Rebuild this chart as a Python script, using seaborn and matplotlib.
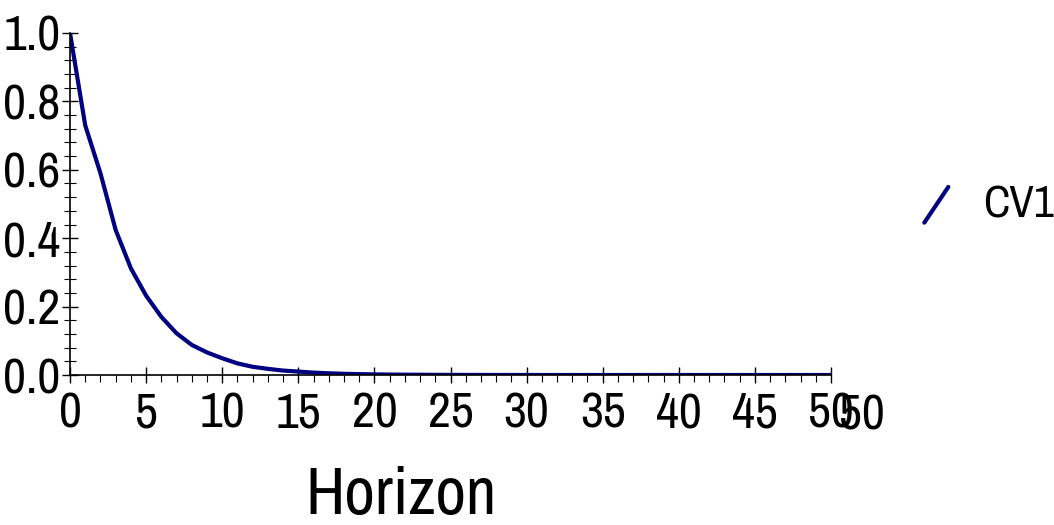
import numpy as np
import pandas as pd
import seaborn as sns
import matplotlib
matplotlib.use("Agg")
import matplotlib.pyplot as plt
from matplotlib import font_manager
from matplotlib.lines import Line2D
from matplotlib.legend_handler import HandlerLine2D
from matplotlib.ticker import MultipleLocator, FormatStrFormatter

# Impulse response of CV1 over the forecast horizon
horizon = list(range(0, 51))
cv1 = [1.000, 0.730, 0.590, 0.424, 0.312, 0.232, 0.170, 0.122, 0.088, 0.066,
       0.049, 0.034, 0.024, 0.018, 0.013, 0.010, 0.007, 0.005, 0.0035, 0.0025,
       0.0018, 0.0013, 0.0009, 0.0007, 0.0005, 0.0003, 0.0002, 0.0002, 0.0001, 0.0001,
       0.0001, 0.0, 0.0, 0.0, 0.0, 0.0, 0.0, 0.0, 0.0, 0.0,
       0.0, 0.0, 0.0, 0.0, 0.0, 0.0, 0.0, 0.0, 0.0, 0.0, 0.0]
series_name = "CV1"
x_label = "Horizon"

df = pd.DataFrame({"Horizon": horizon, "value": cv1, "series": series_name})

sns.set_style("white")
installed = {f.name for f in font_manager.fontManager.ttflist}
narrow = [f for f in ("Liberation Sans Narrow", "Archivo Narrow", "Roboto Condensed")
          if f in installed]
plt.rcParams["font.family"] = narrow + ["DejaVu Sans"]
plt.rcParams["text.color"] = "black"
plt.rcParams["axes.labelcolor"] = "black"
plt.rcParams["xtick.color"] = "black"
plt.rcParams["ytick.color"] = "black"

fig = plt.figure(figsize=(10.54, 5.25), dpi=100)
ax = fig.add_axes([70 / 1054, 150 / 525, 761 / 1054, 342 / 525])

sns.lineplot(data=df, x="Horizon", y="value", color="#000080", linewidth=3.0,
             ax=ax, legend=False)

ax.set_xlim(0, 50)
ax.set_ylim(0, 1.0)
ax.set_ylabel("")
ax.set_xlabel(x_label, fontsize=48, color="black")
ax.xaxis.label.set_va("baseline")
ax.xaxis.set_label_coords((401 - 70) / 761, (375 - 514) / 342)

for side in ("top", "right"):
    ax.spines[side].set_visible(False)
for side in ("left", "bottom"):
    ax.spines[side].set_color("black")
    ax.spines[side].set_linewidth(1.2)

ax.xaxis.set_major_locator(MultipleLocator(5))
ax.xaxis.set_minor_locator(MultipleLocator(1))
ax.yaxis.set_major_locator(MultipleLocator(0.2))
ax.yaxis.set_minor_locator(MultipleLocator(0.04))
ax.yaxis.set_major_formatter(FormatStrFormatter("%.1f"))

ax.tick_params(which="both", bottom=True, left=True, top=False, right=False)
ax.tick_params(axis="both", which="major", direction="inout", length=12,
               width=1.0, labelsize=36, labelcolor="black")
ax.tick_params(axis="x", which="major", pad=6)
ax.tick_params(axis="y", which="major", pad=1)
ax.tick_params(axis="x", which="minor", direction="out", length=5, width=0.8)
ax.tick_params(axis="y", which="minor", direction="inout", length=8, width=0.8)

# repeated end label on the horizon axis
ax.text(52, -0.055, "50", fontsize=36, ha="center", va="top",
        transform=ax.transData, clip_on=False)


class DiagonalHandler(HandlerLine2D):
    def create_artists(self, legend, orig_handle, xdescent, ydescent,
                       width, height, fontsize, trans):
        line = Line2D([-xdescent + width * 0.05, -xdescent + width * 0.95],
                      [-ydescent - height * 0.15, -ydescent + height * 1.0])
        self.update_prop(line, orig_handle, legend)
        line.set_transform(trans)
        return [line]


handle = Line2D([], [], color="#000080", linewidth=3.0)
fig.legend([handle], [series_name], handler_map={Line2D: DiagonalHandler()},
           loc="center left", bbox_to_anchor=(923 / 1054, 1 - 206 / 525),
           frameon=False, fontsize=32, handlelength=0.6, handletextpad=0.75,
           borderpad=0, borderaxespad=0)

fig.savefig("out.png", dpi=100)
